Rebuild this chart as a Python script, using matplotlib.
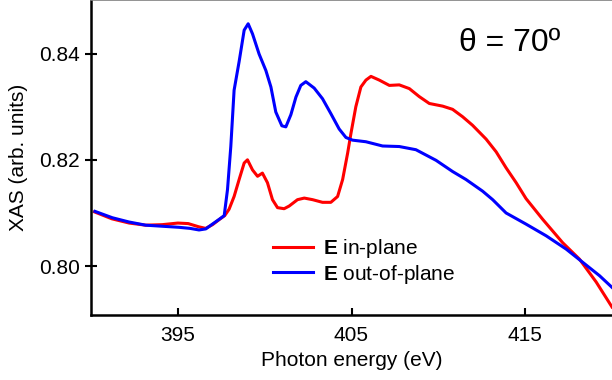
import numpy as np
import matplotlib
matplotlib.use('Agg')
import matplotlib.pyplot as plt

plt.rcParams['font.family'] = ['Liberation Sans', 'DejaVu Sans']
plt.rcParams['mathtext.fontset'] = 'custom'
plt.rcParams['mathtext.rm'] = 'Liberation Sans'
plt.rcParams['mathtext.bf'] = 'Liberation Sans:bold'

# E in-plane (red)
e_in = [390.2, 391.2, 392.2, 393.15, 394.1, 395.0, 395.6, 396.2, 396.6, 397.0,
        397.4, 397.7, 397.95, 398.24, 398.53, 398.82, 399.01, 399.30, 399.59, 399.87,
        400.16, 400.45, 400.74, 401.12, 401.41, 401.89, 402.28, 402.76, 403.33, 403.81,
        404.20, 404.49, 404.78, 404.97, 405.25, 405.54, 405.83, 406.12, 406.60, 407.18,
        407.75, 408.33, 408.90, 409.48, 410.25, 410.82, 411.40, 411.97, 412.75, 413.33,
        413.90, 414.48, 415.05, 416.01, 417.16, 418.13, 419.09, 420.0]
xas_in = [0.8102, 0.8089, 0.8081, 0.8077, 0.8078, 0.8081, 0.8080, 0.8074, 0.8071, 0.8078,
          0.8088, 0.8095, 0.8107, 0.8131, 0.8163, 0.8194, 0.8200, 0.8181, 0.8169, 0.8175,
          0.8157, 0.8125, 0.8110, 0.8108, 0.8113, 0.8125, 0.8128, 0.8125, 0.8120, 0.8120,
          0.8131, 0.8163, 0.8213, 0.8250, 0.8300, 0.8337, 0.8350, 0.8357, 0.8350, 0.8340,
          0.8341, 0.8334, 0.8319, 0.8306, 0.8301, 0.8295, 0.8281, 0.8265, 0.8239, 0.8215,
          0.8185, 0.8157, 0.8127, 0.8088, 0.8044, 0.8013, 0.7970, 0.7923]

# E out-of-plane (blue)
e_out = [390.23, 391.23, 392.19, 393.15, 394.11, 395.07, 395.7, 396.22, 396.61, 396.99,
         397.38, 397.67, 397.86, 398.05, 398.24, 398.53, 398.82, 399.05, 399.30, 399.68,
         400.07, 400.36, 400.64, 400.99, 401.22, 401.51, 401.80, 402.08, 402.37, 402.85,
         403.33, 403.81, 404.29, 404.68, 405.06, 405.83, 406.79, 407.75, 408.71, 409.29,
         409.87, 410.82, 411.59, 412.55, 413.13, 413.90, 415.05, 416.21, 417.36, 418.32,
         419.28, 420.0]
xas_out = [0.8103, 0.8091, 0.8083, 0.8077, 0.8075, 0.8073, 0.8071, 0.8068, 0.8070, 0.8079,
           0.8088, 0.8095, 0.8144, 0.8225, 0.8331, 0.8385, 0.8444, 0.8456, 0.8437, 0.8399,
           0.8368, 0.8337, 0.8290, 0.8264, 0.8262, 0.8285, 0.8318, 0.8340, 0.8347, 0.8335,
           0.8315, 0.8287, 0.8258, 0.8242, 0.8237, 0.8234, 0.8226, 0.8225, 0.8219, 0.8209,
           0.8199, 0.8178, 0.8163, 0.8141, 0.8125, 0.8100, 0.8079, 0.8057, 0.8032, 0.8007,
           0.7982, 0.7960]

xticks = [395, 405, 415]
yticks = [0.80, 0.82, 0.84]
ytick_labels = ['0.80', '0.82', '0.84']

fig = plt.figure(figsize=(6.12, 3.8), dpi=100)
ax = fig.add_axes([91 / 612, 1 - 315 / 380, 1 - 91 / 612, 315 / 380 - 0.001])

ax.plot(e_in, xas_in, color='#ff0000', lw=2.2, solid_joinstyle='round',
        label=r'$\mathbf{E}$ in-plane')
ax.plot(e_out, xas_out, color='#0000ff', lw=2.2, solid_joinstyle='round',
        label=r'$\mathbf{E}$ out-of-plane')

ax.set_xlim(390, 420)
ax.set_ylim(0.7908, 0.85)
ax.set_xticks(xticks)
ax.set_yticks(yticks)
ax.set_yticklabels(ytick_labels)
ax.tick_params(axis='x', direction='in', length=5, width=1.5, labelsize=15, pad=8)
ax.tick_params(axis='y', direction='inout', length=8, width=1.5, labelsize=15, pad=4)

for s in ['left', 'bottom']:
    ax.spines[s].set_linewidth(1.8)
    ax.spines[s].set_color('black')
ax.spines['right'].set_visible(False)
ax.spines['top'].set_color('#808080')
ax.spines['top'].set_linewidth(1.2)

ax.set_xlabel('Photon energy (eV)', fontsize=15, labelpad=4)
ax.set_ylabel('XAS (arb. units)', fontsize=15, labelpad=8)

ax.text(0.803, 0.865, 'θ = 70º', transform=ax.transAxes, fontsize=23,
        ha='center', va='center')

ax.legend(loc='lower left', bbox_to_anchor=(0.33, 0.06), frameon=False, fontsize=15,
          handlelength=1.9, handletextpad=0.5, labelspacing=0.12, borderpad=0)

fig.savefig('out.png', dpi=100)
